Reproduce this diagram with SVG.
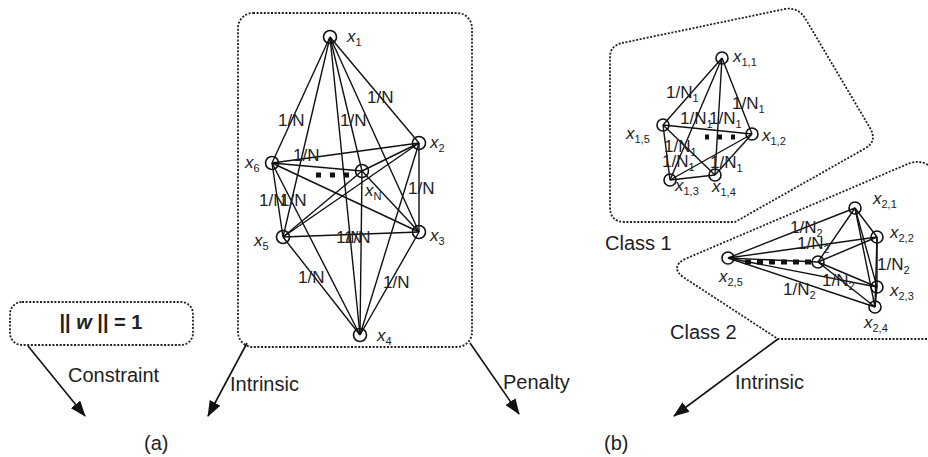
<svg xmlns="http://www.w3.org/2000/svg" width="928" height="457" viewBox="0 0 928 457">
<defs>
<marker id="ah" viewBox="0 0 16 12" refX="15" refY="6" markerWidth="16" markerHeight="12" markerUnits="userSpaceOnUse" orient="auto">
<path d="M0,0 L16,6 L0,12 Z" fill="#111"/>
</marker>
</defs>
<style>
text{font-family:"Liberation Sans",Arial,sans-serif;fill:#222}
.dot{fill:none;stroke:#222;stroke-width:1.8;stroke-dasharray:2 1.6}
.e{stroke:#111;stroke-width:1.4}
.n{fill:none;stroke:#111;stroke-width:1.6}
.lab{font-size:17px}
.big{font-size:20px}
.xi{font-style:italic}
.sub{font-size:11px}
.arr{stroke:#111;stroke-width:1.6;fill:none}
.dash{stroke:#111;stroke-width:5}
</style>

<!-- containers -->
<g id="frame-a"><rect class="dot" x="238" y="13" width="234" height="334" rx="15"/></g>
<g id="constraint-box"><rect class="dot" x="10" y="302" width="183" height="43" rx="12"/>
<text x="101" y="329" class="big" text-anchor="middle" font-weight="bold" fill="#333">|| <tspan font-style="italic">w</tspan> || = 1</text></g>
<g id="class1-region"><path class="dot" d="M622,43 L785,9 Q798,7 805,18 L870,128 Q878,142 864,149 L735,222 L625,222 Q610,222 610,207 L610,57 Q610,46 622,43 Z"/></g>
<g id="class2-region"><path class="dot" d="M928,165 Q920,160 910,163 L685,259 Q670,267 683,277 L778,339 L928,339"/></g>

<!-- connectors -->
<g id="connectors">
<g id="edges-a">
<line class="e" x1="330" y1="37" x2="419" y2="143"/>
<line class="e" x1="330" y1="37" x2="419" y2="232"/>
<line class="e" x1="330" y1="37" x2="360" y2="335"/>
<line class="e" x1="330" y1="37" x2="283" y2="237"/>
<line class="e" x1="330" y1="37" x2="272" y2="163"/>
<line class="e" x1="330" y1="37" x2="362" y2="171"/>
<line class="e" x1="419" y1="143" x2="419" y2="232"/>
<line class="e" x1="419" y1="143" x2="360" y2="335"/>
<line class="e" x1="419" y1="143" x2="283" y2="237"/>
<line class="e" x1="419" y1="143" x2="272" y2="163"/>
<line class="e" x1="419" y1="143" x2="362" y2="171"/>
<line class="e" x1="419" y1="232" x2="360" y2="335"/>
<line class="e" x1="419" y1="232" x2="283" y2="237"/>
<line class="e" x1="419" y1="232" x2="272" y2="163"/>
<line class="e" x1="419" y1="232" x2="362" y2="171"/>
<line class="e" x1="360" y1="335" x2="283" y2="237"/>
<line class="e" x1="360" y1="335" x2="272" y2="163"/>
<line class="e" x1="360" y1="335" x2="362" y2="171"/>
<line class="e" x1="283" y1="237" x2="272" y2="163"/>
<line class="e" x1="283" y1="237" x2="362" y2="171"/>
<line class="e" x1="272" y1="163" x2="362" y2="171"/>
<line class="dash" x1="316" y1="175" x2="352" y2="175" stroke-dasharray="5 9"/>
</g>
<g id="edges-c1">
<line class="e" x1="722" y1="58" x2="752" y2="134"/>
<line class="e" x1="722" y1="58" x2="670" y2="180"/>
<line class="e" x1="722" y1="58" x2="715" y2="175"/>
<line class="e" x1="722" y1="58" x2="663" y2="125"/>
<line class="e" x1="752" y1="134" x2="670" y2="180"/>
<line class="e" x1="752" y1="134" x2="715" y2="175"/>
<line class="e" x1="663" y1="125" x2="752" y2="134" stroke-width="2.6"/>
<line class="e" x1="670" y1="180" x2="715" y2="175"/>
<line class="e" x1="670" y1="180" x2="663" y2="125"/>
<line class="e" x1="715" y1="175" x2="663" y2="125"/>
<line class="dash" x1="705" y1="137" x2="740" y2="137" stroke-width="4" stroke-dasharray="4 9"/>
</g>
<g id="edges-c2">
<line class="e" x1="855" y1="208" x2="877" y2="237"/>
<line class="e" x1="855" y1="208" x2="877" y2="287"/>
<line class="e" x1="855" y1="208" x2="875" y2="307"/>
<line class="e" x1="855" y1="208" x2="728" y2="258"/>
<line class="e" x1="855" y1="208" x2="818" y2="262"/>
<line class="e" x1="877" y1="237" x2="877" y2="287"/>
<line class="e" x1="877" y1="237" x2="875" y2="307"/>
<line class="e" x1="877" y1="237" x2="728" y2="258"/>
<line class="e" x1="877" y1="237" x2="818" y2="262"/>
<line class="e" x1="877" y1="287" x2="875" y2="307"/>
<line class="e" x1="877" y1="287" x2="728" y2="258"/>
<line class="e" x1="877" y1="287" x2="818" y2="262"/>
<line class="e" x1="875" y1="307" x2="728" y2="258"/>
<line class="e" x1="875" y1="307" x2="818" y2="262"/>
<line class="e" x1="728" y1="258" x2="818" y2="262" stroke-width="2.4"/>
<line class="dash" x1="745" y1="262" x2="812" y2="262" stroke-width="4" stroke-dasharray="6 6"/>
</g>
<g id="arrows">
<line class="arr" x1="28" y1="346" x2="85" y2="416" marker-end="url(#ah)"/>
<line class="arr" x1="247" y1="343" x2="208" y2="416" marker-end="url(#ah)"/>
<line class="arr" x1="470" y1="343" x2="519" y2="414" marker-end="url(#ah)"/>
<line class="arr" x1="778" y1="339" x2="674" y2="416" marker-end="url(#ah)"/>
</g>
</g>

<!-- edge labels -->
<g id="weights-a" class="lab">
<text x="278" y="126">1/N</text>
<text x="340" y="126">1/N</text>
<text x="367" y="103">1/N</text>
<text x="293" y="161">1/N</text>
<text x="408" y="194">1/N</text>
<text x="259" y="206">1/N</text>
<text x="280" y="206">1/N</text>
<text x="336" y="243">1/N</text>
<text x="344" y="243">1/N</text>
<text x="298" y="283">1/N</text>
<text x="383" y="288">1/N</text>
</g>
<g id="weights-c1" class="lab">
<text x="666" y="98">1/N<tspan class="sub" dy="4">1</tspan></text>
<text x="680" y="124">1/N<tspan class="sub" dy="4">1</tspan></text>
<text x="709" y="124">1/N<tspan class="sub" dy="4">1</tspan></text>
<text x="732" y="109">1/N<tspan class="sub" dy="4">1</tspan></text>
<text x="664" y="152">1/N<tspan class="sub" dy="4">1</tspan></text>
<text x="662" y="167">1/N<tspan class="sub" dy="4">1</tspan></text>
<text x="710" y="168">1/N<tspan class="sub" dy="4">1</tspan></text>
</g>
<g id="weights-c2" class="lab">
<text x="790" y="233">1/N<tspan class="sub" dy="4">2</tspan></text>
<text x="797" y="249">1/N<tspan class="sub" dy="4">2</tspan></text>
<text x="877" y="270">1/N<tspan class="sub" dy="4">2</tspan></text>
<text x="783" y="295">1/N<tspan class="sub" dy="4">2</tspan></text>
<text x="822" y="286">1/N<tspan class="sub" dy="4">2</tspan></text>
</g>

<!-- nodes (a) -->
<g id="x1"><circle class="n" cx="330" cy="37" r="6.5"/><text class="lab" x="347" y="42"><tspan class="xi">x</tspan><tspan class="sub" dy="4">1</tspan></text></g>
<g id="x2"><circle class="n" cx="419" cy="143" r="6.5"/><text class="lab" x="430" y="148"><tspan class="xi">x</tspan><tspan class="sub" dy="4">2</tspan></text></g>
<g id="x3"><circle class="n" cx="419" cy="232" r="6.5"/><text class="lab" x="430" y="241"><tspan class="xi">x</tspan><tspan class="sub" dy="4">3</tspan></text></g>
<g id="x4"><circle class="n" cx="360" cy="335" r="6.5"/><text class="lab" x="377" y="341"><tspan class="xi">x</tspan><tspan class="sub" dy="4">4</tspan></text></g>
<g id="x5"><circle class="n" cx="283" cy="237" r="6.5"/><text class="lab" x="254" y="246"><tspan class="xi">x</tspan><tspan class="sub" dy="4">5</tspan></text></g>
<g id="x6"><circle class="n" cx="272" cy="163" r="6.5"/><text class="lab" x="245" y="168"><tspan class="xi">x</tspan><tspan class="sub" dy="4">6</tspan></text></g>
<g id="xN"><circle class="n" cx="362" cy="171" r="6.5"/><text class="lab" x="365" y="196"><tspan class="xi">x</tspan><tspan class="sub" dy="4">N</tspan></text></g>

<!-- nodes class 1 -->
<g id="x1-1"><circle class="n" cx="722" cy="58" r="6"/><text class="lab" x="733" y="62"><tspan class="xi">x</tspan><tspan class="sub" dy="4">1,1</tspan></text></g>
<g id="x1-2"><circle class="n" cx="752" cy="134" r="6"/><text class="lab" x="762" y="141"><tspan class="xi">x</tspan><tspan class="sub" dy="4">1,2</tspan></text></g>
<g id="x1-3"><circle class="n" cx="670" cy="180" r="6"/><text class="lab" x="675" y="191"><tspan class="xi">x</tspan><tspan class="sub" dy="4">1,3</tspan></text></g>
<g id="x1-4"><circle class="n" cx="715" cy="175" r="6"/><text class="lab" x="712" y="192"><tspan class="xi">x</tspan><tspan class="sub" dy="4">1,4</tspan></text></g>
<g id="x1-5"><circle class="n" cx="663" cy="125" r="6"/><text class="lab" x="626" y="139"><tspan class="xi">x</tspan><tspan class="sub" dy="4">1,5</tspan></text></g>

<!-- nodes class 2 -->
<g id="x2-1"><circle class="n" cx="855" cy="208" r="6"/><text class="lab" x="873" y="204"><tspan class="xi">x</tspan><tspan class="sub" dy="4">2,1</tspan></text></g>
<g id="x2-2"><circle class="n" cx="877" cy="237" r="6"/><text class="lab" x="890" y="238"><tspan class="xi">x</tspan><tspan class="sub" dy="4">2,2</tspan></text></g>
<g id="x2-3"><circle class="n" cx="877" cy="287" r="6"/><text class="lab" x="890" y="296"><tspan class="xi">x</tspan><tspan class="sub" dy="4">2,3</tspan></text></g>
<g id="x2-4"><circle class="n" cx="875" cy="307" r="6"/><text class="lab" x="864" y="328"><tspan class="xi">x</tspan><tspan class="sub" dy="4">2,4</tspan></text></g>
<g id="x2-5"><circle class="n" cx="728" cy="258" r="6"/><text class="lab" x="719" y="282"><tspan class="xi">x</tspan><tspan class="sub" dy="4">2,5</tspan></text></g>
<g id="x2-N"><circle class="n" cx="818" cy="262" r="6"/></g>

<!-- free labels -->
<g id="labels" class="big">
<text x="68" y="382">Constraint</text>
<text x="230" y="391">Intrinsic</text>
<text x="503" y="389">Penalty</text>
<text x="735" y="389">Intrinsic</text>
<text x="605" y="250">Class 1</text>
<text x="670" y="339">Class 2</text>
<text x="144" y="450">(a)</text>
<text x="604" y="450">(b)</text>
</g>
</svg>
